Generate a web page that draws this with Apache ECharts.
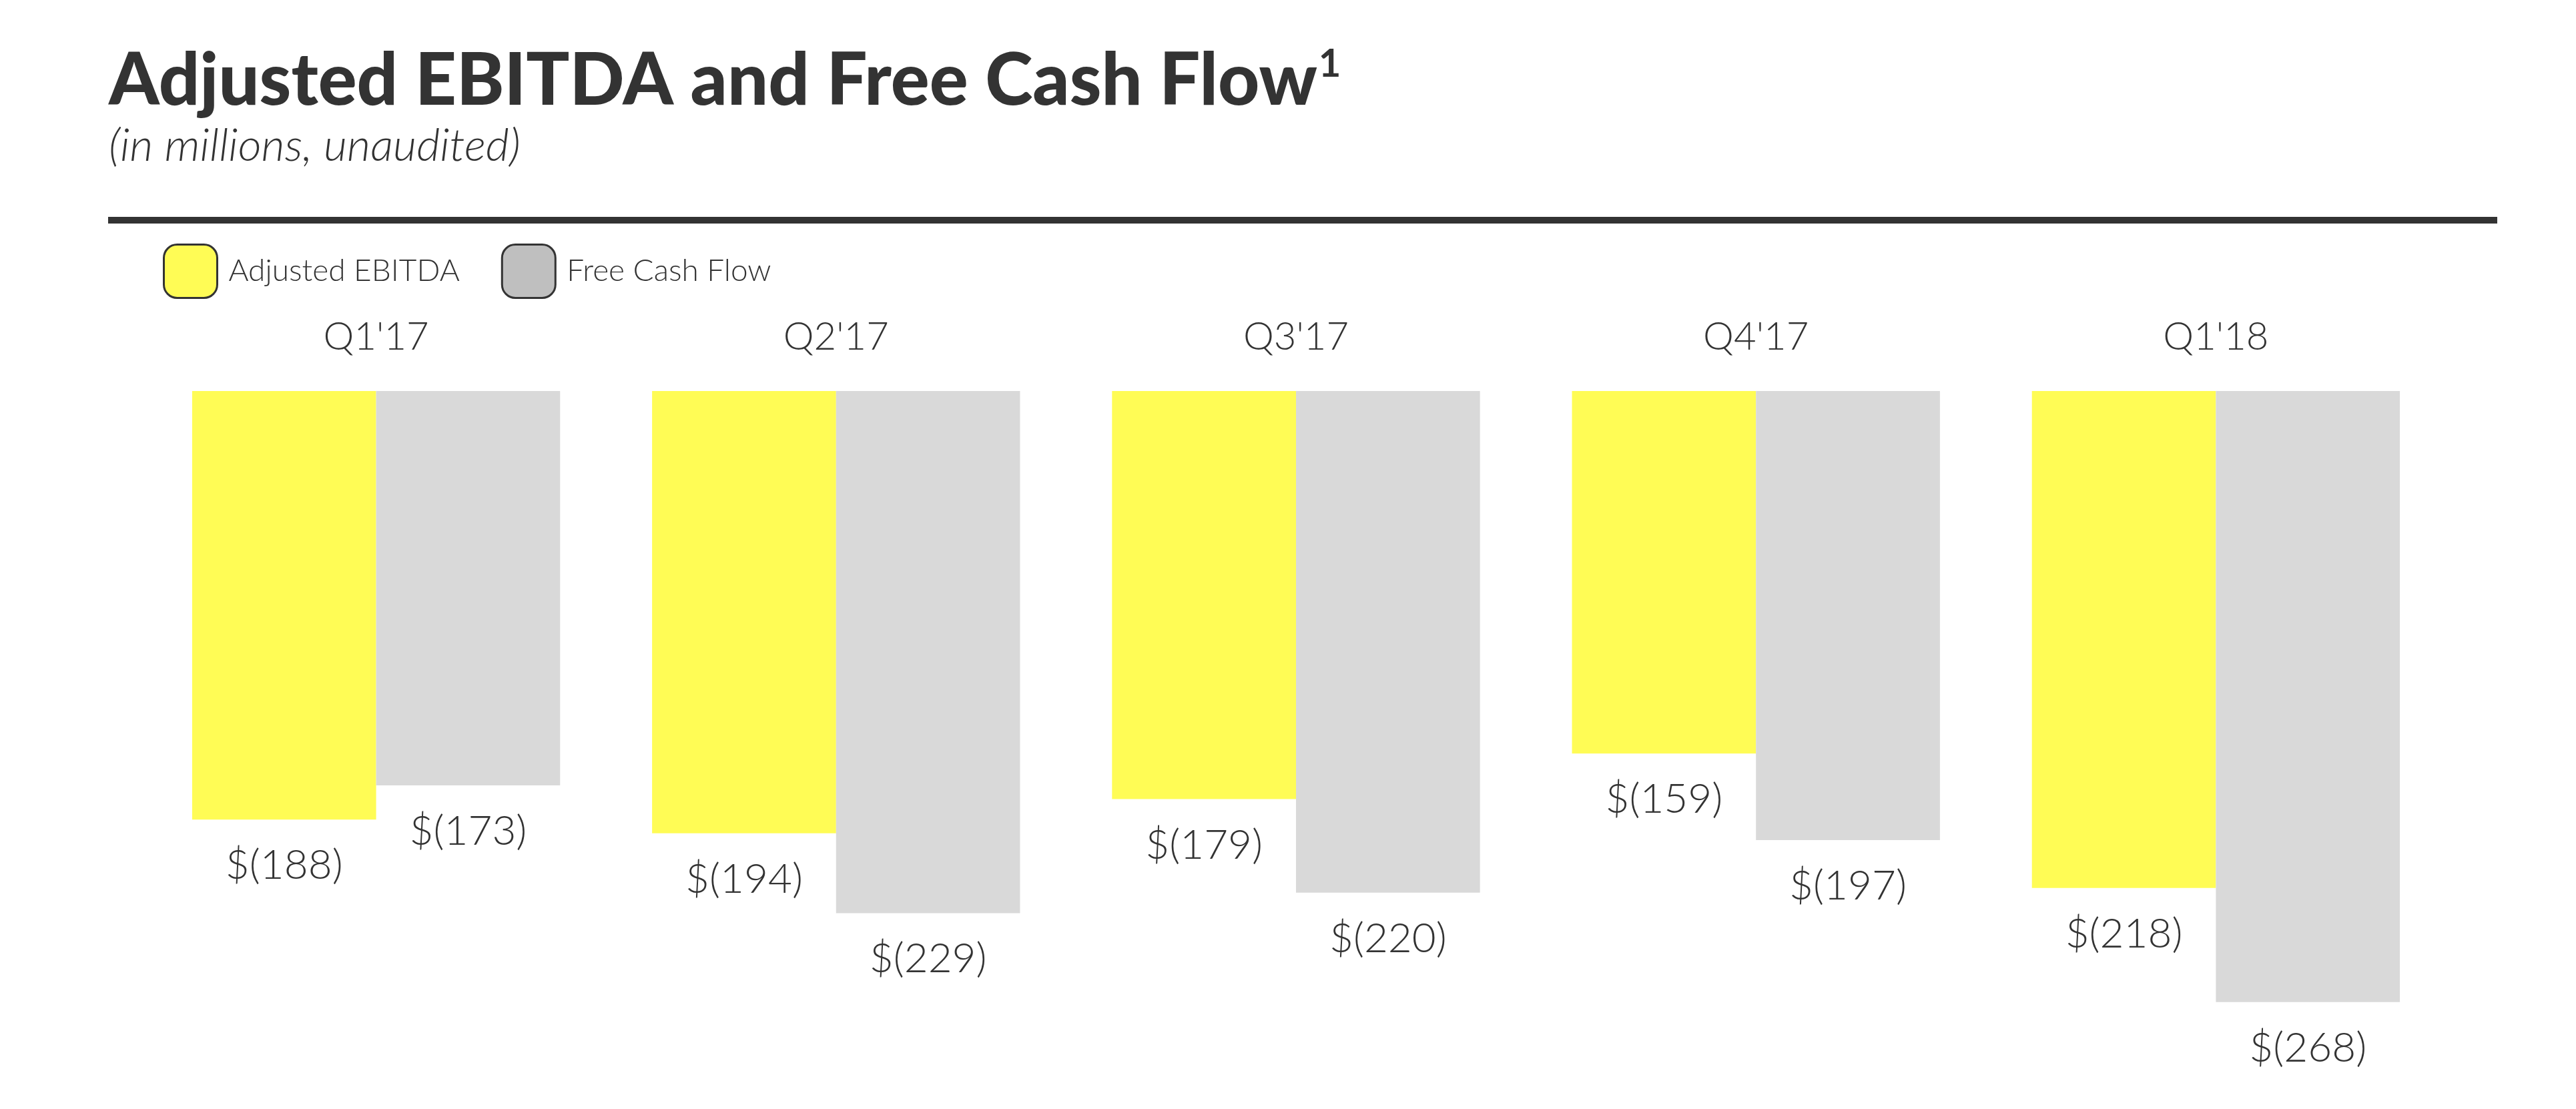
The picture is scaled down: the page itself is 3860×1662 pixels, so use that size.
<!DOCTYPE html>
<html><head><meta charset="utf-8">
<script src="https://cdn.jsdelivr.net/npm/echarts@6/dist/echarts.min.js"></script>
<style>html,body{margin:0;padding:0;background:#fff}#c{width:3860px;height:1662px}</style>
</head><body><div id="c"></div>
<script>
const categories = ["Q1'17", "Q2'17", "Q3'17", "Q4'17", "Q1'18"];
const adjustedEbitda = [-188, -194, -179, -159, -218];
const freeCashFlow = [-173, -229, -220, -197, -268];
const seriesNames = ['Adjusted EBITDA', 'Free Cash Flow'];

const chart = echarts.init(document.getElementById('c'));
const fmt = p => '$(' + Math.abs(p.value) + ')';
const labelCfg = {
  show: true, position: 'bottom', distance: 38, formatter: fmt,
  fontFamily: 'Lato', fontWeight: 300, fontSize: 62, color: '#333'
};
chart.setOption({
  animation: false,
  backgroundColor: '#fff',
  title: {
    left: 158, top: 62,
    text: '{t|Adjusted EBITDA and Free Cash Flow}{s|1}',
    subtext: '(in millions, unaudited)',
    itemGap: 9,
    textStyle: {
      rich: {
        t: { fontFamily: 'Lato', fontWeight: 900, fontSize: 108, color: '#333' },
        s: { fontFamily: 'Lato', fontWeight: 'bold', fontSize: 58, color: '#333', verticalAlign: 'top', padding: [0,0,52,2] }
      }
    },
    subtextStyle: { fontFamily: 'Lato', fontStyle: 'italic', fontWeight: 300, fontSize: 68, color: '#333' }
  },
  graphic: [{
    type: 'rect', shape: { x: 162, y: 325, width: 3580, height: 10 },
    style: { fill: '#333' }, silent: true
  }],
  legend: {
    left: 239, top: 360, itemWidth: 80, itemHeight: 80, itemGap: 62,
    icon: 'roundRect',
    textStyle: { fontFamily: 'Lato', fontWeight: 300, fontSize: 46, color: '#333', padding: [0,0,10,12] },
    data: [
      { name: seriesNames[0], itemStyle: { color: '#FFFC55', borderColor: '#333', borderWidth: 3 } },
      { name: seriesNames[1], itemStyle: { color: '#BFBFBF', borderColor: '#333', borderWidth: 3 } }
    ]
  },
  grid: { left: 219, right: 195, top: 586, bottom: 51, containLabel: false },
  xAxis: {
    type: 'category', position: 'top', data: categories,
    axisLine: { show: false }, axisTick: { show: false },
    axisLabel: { margin: 52, fontFamily: 'Lato', fontWeight: 300, fontSize: 58, color: '#333' }
  },
  yAxis: {
    type: 'value', min: -300, max: 0, show: false, splitLine: { show: false }
  },
  series: [
    { name: seriesNames[0], type: 'bar', data: adjustedEbitda, barGap: '0%', barCategoryGap: '20%',
      itemStyle: { color: '#FFFC55' }, label: labelCfg },
    { name: seriesNames[1], type: 'bar', data: freeCashFlow, barGap: '0%', barCategoryGap: '20%',
      itemStyle: { color: '#D9D9D9' }, label: labelCfg }
  ]
});
</script></body></html>
